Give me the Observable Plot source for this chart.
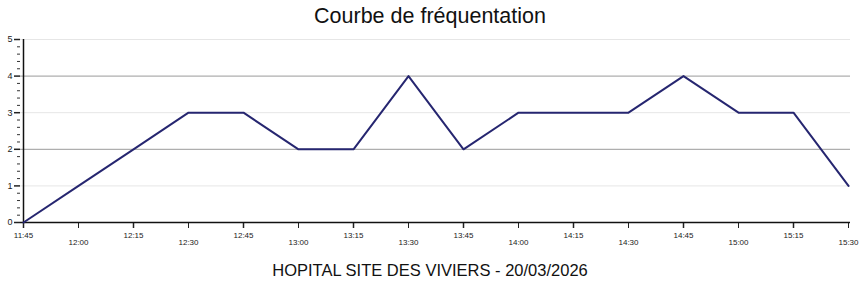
<!DOCTYPE html>
<html>
<head>
<meta charset="utf-8">
<script src="https://cdn.jsdelivr.net/npm/d3@7"></script>
<script src="https://cdn.jsdelivr.net/npm/@observablehq/plot@0.6"></script>
<style>
  body { margin: 0; background: #fff; font-family: "Liberation Sans", Arial, sans-serif; }
  #title { height: 30px; line-height: 32px; text-align: center; font-size: 21.5px; color: #111; }
  #caption { height: 28px; line-height: 28px; text-align: center; font-size: 16.5px; color: #111; }
  svg { display: block; }
</style>
</head>
<body>
<div id="title">Courbe de fréquentation</div>
<div id="chart"></div>
<div id="caption">HOPITAL SITE DES VIVIERS - 20/03/2026</div>
<script>
const times = ["11:45","12:00","12:15","12:30","12:45","13:00","13:15","13:30","13:45","14:00","14:15","14:30","14:45","15:00","15:15","15:30"];
const visitors = [0,1,2,3,3,2,2,4,2,3,3,3,4,3,3,1];
const yTicks = [0,1,2,3,4,5];
const darkGrid = [2,4];
const lightGrid = [1,3,5];

const data = times.map((t, i) => ({time: t, value: visitors[i]}));
const evenTimes = times.filter((t, i) => i % 2 === 0);
const oddTimes = times.filter((t, i) => i % 2 === 1);
const minorTicks = d3.range(0, 5.001, 0.2).map(v => Math.round(v * 10) / 10).filter(v => !yTicks.includes(v));

const chart = Plot.plot({
  width: 860,
  height: 226,
  marginTop: 9,
  marginBottom: 34,
  marginLeft: 20,
  marginRight: 10,
  style: { fontFamily: "Liberation Sans, Arial, sans-serif", color: "#222", background: "#fff" },
  x: { type: "point", domain: times, padding: 0 },
  y: { domain: [0, 5] },
  marks: [
    Plot.ruleY(lightGrid, { stroke: "#e6e6e6", strokeWidth: 1 }),
    Plot.ruleY(darkGrid, { stroke: "#9a9a9a", strokeWidth: 1 }),
    Plot.axisY({ ticks: minorTicks, tickSize: 3, tickFormat: () => "", label: null, stroke: "#333", strokeWidth: 1, strokeOpacity: 1 }),
    Plot.axisY({ ticks: yTicks, tickSize: 6, tickPadding: 2, tickFormat: d3.format("d"), fontSize: 9, label: null, strokeWidth: 1.5, strokeOpacity: 1 }),
    Plot.axisX({ ticks: evenTimes, tickSize: 6, tickPadding: 4, fontSize: 8, label: null, strokeWidth: 1.5, strokeOpacity: 1 }),
    Plot.axisX({ ticks: oddTimes, tickSize: 6, tickPadding: 11, fontSize: 8, label: null, strokeWidth: 1, strokeOpacity: 1 }),
    Plot.ruleY([0], { stroke: "#111", strokeWidth: 1.5 }),
    Plot.ruleX([times[0]], { y1: 0, y2: 5, stroke: "#111", strokeWidth: 1.5 }),
    Plot.line(data, { x: "time", y: "value", stroke: "#262670", strokeWidth: 2 })
  ]
});
document.getElementById("chart").appendChild(chart);
</script>
</body>
</html>
